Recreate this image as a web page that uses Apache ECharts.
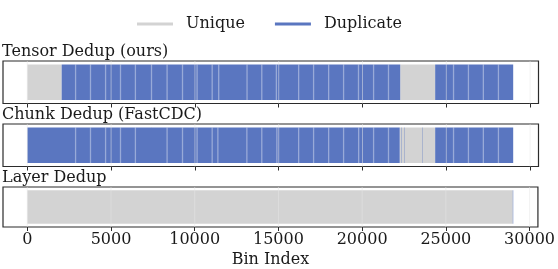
<!DOCTYPE html>
<html>
<head>
<meta charset="utf-8">
<script src="https://cdn.jsdelivr.net/npm/echarts@6/dist/echarts.min.js"></script>
<style>html,body{margin:0;padding:0;background:#fff}#c{width:558px;height:269px}</style>
</head>
<body>
<div id="c"></div>
<script>
// ---- data (bin index ranges) ----
const panelTitles = ['Tensor Dedup (ours)', 'Chunk Dedup (FastCDC)', 'Layer Dedup'];
const legendNames = ['Unique', 'Duplicate'];
const tickValues = [0, 5000, 10000, 15000, 20000, 25000, 30000];

const tensorUnique = [[0, 2050], [22250, 24335]];
const tensorDuplicate = [[2050, 22250], [24335, 28990]];
const tensorSeams = [2880, 3770, 4670, 5560, 6450, 7410, 8340, 9260, 10130, 11030, 11420, 13110, 13990, 14860, 16190, 17080, 17980, 18870, 19760, 20660, 21550, 25430, 26320, 27210, 28110];

const chunkUnique = [[22220, 24335], [7385, 7410]];
const chunkDuplicate = [[0, 22220], [22330, 22350], [22510, 22530], [23580, 23600], [24335, 28990]];
const chunkSeams = [2880, 3770, 4670, 5560, 6450, 8340, 9260, 10130, 11030, 11370, 13100, 13990, 14890, 16190, 17080, 17980, 18870, 19770, 20660, 21550, 25430, 26320, 27210, 28110];

const layerUnique = [[0, 29000]];
const layerDuplicate = [[29000, 29025]];
const layerSeams = [];

const panels = [
  {unique: tensorUnique, dup: tensorDuplicate, seams: tensorSeams},
  {unique: chunkUnique, dup: chunkDuplicate, seams: chunkSeams},
  {unique: layerUnique, dup: layerDuplicate, seams: layerSeams}
];

// ---- styling ----
const GREY = '#d3d3d3';
const BLUE = '#5a76c0';
const FONT = 'DejaVu Serif';
const TXT = '#1a1a1a';
const tops = [61, 124, 187];
const H = 42.5;

function renderRun(params, api) {
  const a = api.coord([api.value(0), 0.92]);
  const b = api.coord([api.value(1), 0.08]);
  return {type: 'rect', shape: {x: a[0], y: a[1], width: b[0] - a[0], height: b[1] - a[1]},
          style: {fill: api.visual('color')}};
}
function renderSeam(params, api) {
  const a = api.coord([api.value(0), 0.92]);
  const b = api.coord([api.value(0), 0.08]);
  return {type: 'line', shape: {x1: a[0], y1: a[1], x2: b[0], y2: b[1]},
          style: {stroke: 'rgba(255,255,255,0.38)', lineWidth: 1.3}};
}
function renderGrid(params, api) {
  const a = api.coord([api.value(0), 1]);
  const b = api.coord([api.value(0), 0]);
  return {type: 'line', shape: {x1: a[0], y1: a[1], x2: b[0], y2: b[1]},
          style: {stroke: 'rgba(232,232,232,0.5)', lineWidth: 1}};
}

const grid = [], xAxis = [], yAxis = [], series = [], title = [];
panels.forEach((p, i) => {
  grid.push({left: 3, right: 19.5, top: tops[i], height: H, show: true,
             borderColor: '#2b2b2b', borderWidth: 1.2, backgroundColor: '#fff'});
  const last = i === panels.length - 1;
  xAxis.push({
    type: 'value', gridIndex: i, min: -1450, max: 30500,
    axisLine: {show: false},
    splitLine: {show: false},
    axisTick: {show: true, customValues: tickValues, length: 4, lineStyle: {color: '#2b2b2b', width: 1}},
    axisLabel: {show: last, customValues: tickValues, margin: 5, fontFamily: FONT, fontSize: 16, color: TXT,
                formatter: v => String(v)},
    name: last ? 'Bin Index' : '', nameLocation: 'middle', nameGap: 25,
    nameTextStyle: {fontFamily: FONT, fontSize: 16, color: TXT}
  });
  yAxis.push({type: 'value', gridIndex: i, min: 0, max: 1, show: false});
  title.push({text: panelTitles[i], left: 2, top: tops[i] - 17, padding: 0,
              textStyle: {fontFamily: FONT, fontSize: 16, fontWeight: 'normal', color: TXT}});
  series.push({type: 'custom', name: 'Unique', xAxisIndex: i, yAxisIndex: i, renderItem: renderRun,
               itemStyle: {color: GREY}, encode: {x: [0, 1]}, data: p.unique, z: 2, silent: true});
  series.push({type: 'custom', name: 'Duplicate', xAxisIndex: i, yAxisIndex: i, renderItem: renderRun,
               itemStyle: {color: BLUE}, encode: {x: [0, 1]}, data: p.dup, z: 3, silent: true});
  series.push({type: 'custom', name: 'seam', xAxisIndex: i, yAxisIndex: i, renderItem: renderSeam,
               encode: {x: 0}, data: p.seams.map(v => [v]), z: 4, silent: true});
  series.push({type: 'custom', name: 'grid', xAxisIndex: i, yAxisIndex: i, renderItem: renderGrid,
               encode: {x: 0}, data: tickValues.map(v => [v]), z: 5, silent: true});
});

const chart = echarts.init(document.getElementById('c'), null, {renderer: 'canvas'});
chart.setOption({
  animation: false,
  backgroundColor: '#fff',
  title: title,
  legend: {
    data: legendNames.map(n => ({name: n, icon: 'rect'})),
    top: 11, left: 137, padding: [5, 0, 5, 0], selectedMode: false,
    itemWidth: 36, itemHeight: 3, itemGap: 30,
    textStyle: {fontFamily: FONT, fontSize: 16, color: TXT, padding: [0, 0, 0, 8]}
  },
  grid: grid, xAxis: xAxis, yAxis: yAxis, series: series
});
</script>
</body>
</html>
